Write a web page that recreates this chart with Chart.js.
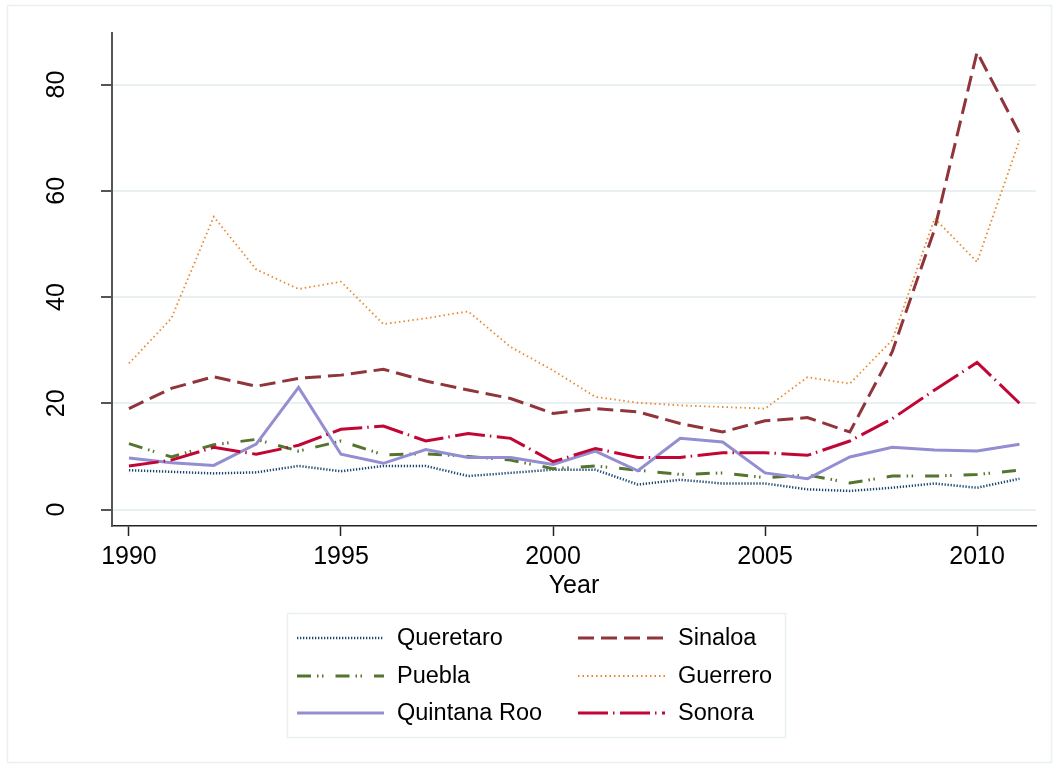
<!DOCTYPE html>
<html>
<head>
<meta charset="utf-8">
<script src="https://cdn.jsdelivr.net/npm/chart.js@4.4.1/dist/chart.umd.min.js"></script>
<style>
  html, body { margin: 0; padding: 0; background: #ffffff; }
  #wrap { width: 1058px; height: 769px; position: relative; }
</style>
</head>
<body>
<div id="wrap"><canvas id="c" width="1058" height="769"></canvas></div>
<script>
// ---- data ----
const years = [1990,1991,1992,1993,1994,1995,1996,1997,1998,1999,2000,2001,2002,2003,2004,2005,2006,2007,2008,2009,2010,2011];
const queretaro   = [7.4,7.1,6.8,7.0,8.2,7.2,8.2,8.2,6.3,6.9,7.5,7.5,4.7,5.6,4.9,4.9,3.8,3.5,4.1,4.9,4.1,5.8];
const sinaloa     = [19.0,22.8,25.0,23.2,24.7,25.3,26.4,24.2,22.5,20.9,18.1,19.0,18.4,16.2,14.6,16.7,17.3,14.6,29.7,52.8,86.1,70.8];
const puebla      = [12.4,9.9,12.2,13.2,11.0,12.9,10.3,10.5,10.0,9.3,7.7,8.2,7.4,6.6,6.9,6.0,6.5,5.0,6.3,6.3,6.6,7.4];
const guerrero    = [27.5,36.0,55.1,45.2,41.5,42.9,34.9,36.0,37.3,30.6,26.2,21.2,20.1,19.6,19.3,19.0,24.9,23.7,31.9,54.8,46.6,69.5];
const quintanaRoo = [9.7,8.8,8.3,12.3,23.0,10.4,8.7,11.3,9.8,9.8,8.5,11.0,7.3,13.4,12.7,6.9,5.8,9.9,11.7,11.2,11.0,12.3];
const sonora      = [8.2,9.3,11.7,10.4,12.1,15.1,15.7,12.9,14.3,13.4,9.0,11.5,9.8,9.8,10.7,10.7,10.2,12.9,17.1,22.5,27.7,20.0];
const xTicks = [1990,1995,2000,2005,2010];
const yTicks = [0,20,40,60,80];
const seriesNames = ["Queretaro","Sinaloa","Puebla","Guerrero","Quintana Roo","Sonora"];
const seriesValues = [queretaro, sinaloa, puebla, guerrero, quintanaRoo, sonora];

// ---- styles ----
const FONT = '"Liberation Sans", Arial, sans-serif';
const styles = [
  { color: '#1a476f', width: 2.5, dash: [1.3, 1.7] },
  { color: '#90353b', width: 3,   dash: [16, 7] },
  { color: '#55752f', width: 3,   dash: [14, 6, 1.5, 3.5, 1.5, 12] },
  { color: '#e8892a', width: 1.8, dash: [1.5, 3] },
  { color: '#938dd2', width: 3,   dash: [] },
  { color: '#c10534', width: 3,   dash: [30, 5, 1.5, 5.5] }
];

const datasets = seriesNames.map((name, i) => ({
  label: name,
  data: years.map((y, k) => ({ x: y, y: seriesValues[i][k] })),
  borderColor: styles[i].color,
  backgroundColor: styles[i].color,
  borderWidth: styles[i].width,
  borderDash: styles[i].dash,
  pointRadius: 0,
  tension: 0,
  fill: false,
  order: seriesNames.length - i
}));

const bgPlugin = {
  id: 'bg',
  beforeDraw(chart) {
    const ctx = chart.ctx;
    ctx.save();
    ctx.fillStyle = '#ffffff';
    ctx.fillRect(0, 0, chart.width, chart.height);
    ctx.strokeStyle = '#e8f0f2';
    ctx.lineWidth = 1.5;
    ctx.strokeRect(7.5, 5.5, 1044, 757);
    ctx.restore();
  }
};

const yLabelPlugin = {
  id: 'yLabels',
  afterDraw(chart) {
    const ctx = chart.ctx;
    const ys = chart.scales.y;
    ctx.save();
    ctx.fillStyle = '#000000';
    ctx.font = '25px ' + FONT;
    ctx.textAlign = 'center';
    ctx.textBaseline = 'middle';
    yTicks.forEach(v => {
      const py = ys.getPixelForValue(v);
      ctx.save();
      ctx.translate(57.5, py);
      ctx.rotate(-Math.PI / 2);
      ctx.fillText(String(v), 0, 0);
      ctx.restore();
    });
    ctx.restore();
  }
};

const legendPlugin = {
  id: 'customLegend',
  afterDraw(chart) {
    const ctx = chart.ctx;
    ctx.save();
    ctx.strokeStyle = '#e8f0f2';
    ctx.lineWidth = 1.5;
    ctx.strokeRect(287.5, 613.5, 498, 124);
    const colSample = [297, 578];
    const colText = [397, 678];
    const rowY = [638, 676, 713];
    chart.data.datasets.forEach((ds, i) => {
      const col = i % 2, row = Math.floor(i / 2);
      const y = rowY[row];
      ctx.beginPath();
      ctx.strokeStyle = ds.borderColor;
      ctx.lineWidth = ds.borderWidth;
      ctx.setLineDash(ds.borderDash);
      ctx.moveTo(colSample[col], y);
      ctx.lineTo(colSample[col] + 87, y);
      ctx.stroke();
      ctx.setLineDash([]);
      ctx.fillStyle = '#000000';
      ctx.font = '23.5px ' + FONT;
      ctx.textAlign = 'left';
      ctx.textBaseline = 'middle';
      ctx.fillText(ds.label, colText[col], y + 1);
    });
    ctx.restore();
  }
};

new Chart(document.getElementById('c'), {
  type: 'line',
  data: { datasets },
  plugins: [bgPlugin, yLabelPlugin, legendPlugin],
  options: {
    responsive: false,
    animation: false,
    devicePixelRatio: 1,
    layout: { padding: { top: 33, right: 22, bottom: 168, left: 0 } },
    plugins: { legend: { display: false }, tooltip: { enabled: false } },
    scales: {
      x: {
        type: 'linear',
        min: 1989.6,
        max: 2011.39,
        afterBuildTicks: s => { s.ticks = xTicks.map(v => ({ value: v })); },
        afterFit: s => { s.height = 75; },
        grid: { drawOnChartArea: false, drawTicks: true, tickLength: 10, tickColor: '#222222', tickWidth: 1.5 },
        border: { display: true, color: '#222222', width: 1.5 },
        ticks: { color: '#000000', font: { family: FONT, size: 25 }, padding: 6, maxRotation: 0, minRotation: 0,
                 callback: v => String(v) },
        title: { display: true, text: 'Year', color: '#000000', font: { family: FONT, size: 25 }, padding: { top: 0, bottom: 0 } }
      },
      y: {
        type: 'linear',
        min: -3.1,
        max: 89.7,
        afterBuildTicks: s => { s.ticks = yTicks.map(v => ({ value: v })); },
        afterFit: s => { s.width = 112; },
        grid: { color: '#e8f0f2', lineWidth: 2, drawTicks: true, tickLength: 11, tickColor: '#555555', tickWidth: 2 },
        border: { display: true, color: '#555555', width: 2 },
        ticks: { display: false }
      }
    }
  }
});
</script>
</body>
</html>
